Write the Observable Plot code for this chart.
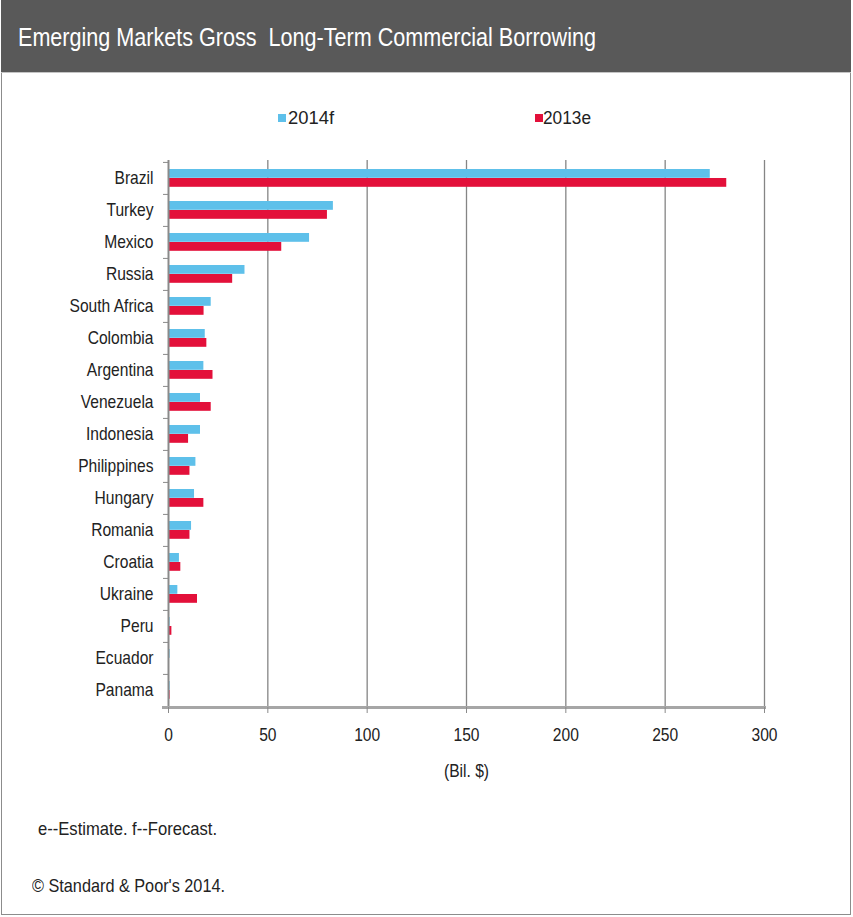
<!DOCTYPE html>
<html>
<head>
<meta charset="utf-8">
<script src="https://cdn.jsdelivr.net/npm/d3@7"></script>
<script src="https://cdn.jsdelivr.net/npm/@observablehq/plot@0.6"></script>
<style>
  html, body { margin: 0; padding: 0; background: #fff; }
  body { font-family: 'Liberation Sans', Arial, sans-serif; position: relative; width: 853px; height: 917px; overflow: hidden; }
  #frame { position: absolute; left: 1px; top: 0; width: 850px; height: 915px; border: 1.5px solid #8c8c8c; box-sizing: border-box; }
  #header { position: absolute; left: 1px; top: 0; width: 850px; height: 73px; background: #595959; border-bottom: 1px solid #c4c4c4; box-sizing: border-box; }
  .fit { position: absolute; white-space: nowrap; line-height: 1; transform-origin: 0 50%; }
  #title { left: 18px; top: 24px; color: #fff; font-size: 26.5px; }
  .leg { font-size: 18px; color: #222; top: 109px; }
  .sw { position: absolute; width: 7.5px; height: 8px; top: 114px; }
  #chart { position: absolute; left: 0; top: 140px; }
  .note { font-size: 18.5px; color: #222; }
</style>
</head>
<body>
<div id="frame"></div>
<div id="header"></div>
<div class="fit" id="title" data-w="578">Emerging Markets Gross&nbsp; Long-Term Commercial Borrowing</div>
<div class="sw" style="left:278px; background:#5ec0ea"></div>
<div class="fit leg" style="left:288px" data-w="46">2014f</div>
<div class="sw" style="left:535px; background:#e3103a"></div>
<div class="fit leg" style="left:543px" data-w="48">2013e</div>
<div id="chart"></div>
<div class="fit note" style="left:38px; top:820px" data-w="179">e--Estimate. f--Forecast.</div>
<div class="fit note" style="left:32px; top:877px" data-w="193">© Standard &amp; Poor's 2014.</div>
<script>
const countries = ["Brazil", "Turkey", "Mexico", "Russia", "South Africa", "Colombia", "Argentina", "Venezuela", "Indonesia", "Philippines", "Hungary", "Romania", "Croatia", "Ukraine", "Peru", "Ecuador", "Panama"];
const forecast2014 = [272.7, 83, 71, 38.5, 21.5, 18.5, 17.8, 16.1, 16.1, 13.8, 13.1, 11.6, 5.5, 4.7, 0.8, 0.8, 0.8];
const estimate2013 = [281, 80, 57, 32.3, 17.9, 19.3, 22.4, 21.5, 10.1, 10.8, 17.8, 10.8, 6.2, 14.6, 1.7, 0, 0.8];
const xTicks = [0, 50, 100, 150, 200, 250, 300];
const seriesColors = { "2014f": "#5ec0ea", "2013e": "#e3103a" };

const rows = countries.map((c, i) => ({ country: c, f: forecast2014[i], e: estimate2013[i] }));

const chart = Plot.plot({
  width: 853,
  height: 647,
  marginTop: 20,
  marginBottom: 80,
  marginLeft: 168,
  marginRight: 89,
  style: { fontFamily: "'Liberation Sans', Arial, sans-serif", fontSize: "19px", color: "#222", background: "transparent" },
  x: { domain: [0, 300], ticks: xTicks },
  y: { domain: countries, padding: 0 },
  marks: [
    Plot.ruleX(xTicks.slice(1), { stroke: "#858585", strokeWidth: 1.3 }),
    Plot.barX(rows, { y: "country", x: "f", fill: seriesColors["2014f"], insetTop: 7, insetBottom: 16.2 }),
    Plot.barX(rows, { y: "country", x: "e", fill: seriesColors["2013e"], insetTop: 16, insetBottom: 7.2 }),
    Plot.ruleX([0], { stroke: "#8a8a8a", strokeWidth: 2 }),
    Plot.frame({ anchor: "bottom", stroke: "#a6a6a6", strokeWidth: 3, insetLeft: -5 }),
    Plot.axisX({ ticks: xTicks, tickSize: 6, tickPadding: 14, stroke: "#8a8a8a", fill: "#222", fontSize: 19, label: "(Bil. $)", labelAnchor: "center", labelArrow: "none", labelOffset: 69 }),
    Plot.axisY({ tickSize: 0, tickPadding: 15, fill: "#222", fontSize: 19, dy: -1, label: null }),
    Plot.axisY({ tickSize: 5, tickFormat: () => "", stroke: "#8a8a8a", dy: -32.18 / 2, label: null })
  ]
});
document.getElementById("chart").appendChild(chart);

// condense SVG text to mimic a narrow typeface
chart.querySelectorAll("text").forEach(t => {
  const len = t.getComputedTextLength();
  if (len > 0) {
    t.setAttribute("textLength", (len * 0.82).toFixed(2));
    t.setAttribute("lengthAdjust", "spacingAndGlyphs");
  }
});
// fit HTML texts to their measured widths in the reference
document.querySelectorAll(".fit").forEach(el => {
  const w = el.getBoundingClientRect().width;
  const target = +el.dataset.w;
  if (w > 0 && target) el.style.transform = `scaleX(${target / w})`;
});
</script>
</body>
</html>
